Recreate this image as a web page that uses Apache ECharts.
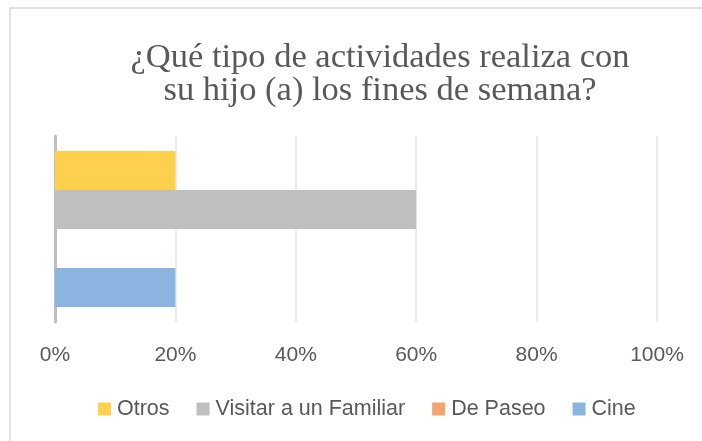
<!DOCTYPE html>
<html>
<head>
<meta charset="utf-8">
<script src="https://cdn.jsdelivr.net/npm/echarts@6/dist/echarts.min.js"></script>
<style>
  html, body { margin: 0; padding: 0; background: #fff; }
  #chart { width: 702px; height: 441px; }
</style>
</head>
<body>
<div id="chart"></div>
<script>
// datos del grafico
const categorias = ['Actividades']
const seriesNombres = ['Otros', 'Visitar a un Familiar', 'De Paseo', 'Cine']
const seriesValores = [[0.2], [0.6], [0], [0.2]]
const seriesColores = ['#FDD04D', '#BFBFBF', '#F3A470', '#8BB5E0']
const ticksX = [0, 0.2, 0.4, 0.6, 0.8, 1]

let chart = echarts.init(document.getElementById('chart'))

const option = {
  animation: false,
  title: {
    text: '¿Qué tipo de actividades realiza con\nsu hijo (a) los fines de semana?',
    left: 380,
    top: 41,
    textAlign: 'center',
    padding: 0,
    textStyle: {
      fontFamily: 'Liberation Serif',
      fontWeight: 'normal',
      fontSize: 34.5,
      color: '#595959',
      lineHeight: 33
    }
  },
  graphic: [{
    type: 'rect',
    shape: { x: 10, y: 8, width: 720, height: 460 },
    style: { fill: 'none', stroke: '#D9D9D9', lineWidth: 1.5 },
    silent: true
  }],
  legend: {
    data: seriesNombres,
    top: 393,
    left: 93,
    itemWidth: 13,
    itemHeight: 13,
    itemGap: 27,
    icon: 'rect',
    textStyle: {
      fontFamily: 'Liberation Sans',
      fontSize: 21.5,
      color: '#595959',
      padding: [0, 0, 0, 1]
    }
  },
  grid: {
    left: 55,
    right: 45,
    top: 136,
    bottom: 119
  },
  xAxis: {
    type: 'value',
    min: 0,
    max: 1,
    interval: 0.2,
    axisLine: { show: false },
    axisTick: { show: false },
    splitLine: { lineStyle: { color: '#EBEBEB', width: 2 } },
    axisLabel: {
      margin: 23,
      fontFamily: 'Liberation Sans',
      fontSize: 21,
      color: '#595959',
      customValues: ticksX,
      formatter: v => Math.round(v * 100) + '%'
    }
  },
  yAxis: {
    type: 'category',
    data: categorias,
    axisLine: { show: true, lineStyle: { color: '#BFBFBF', width: 3 } },
    axisTick: { show: false },
    axisLabel: { show: false }
  },
  series: seriesNombres.map((n, i) => ({
    name: n,
    type: 'bar',
    data: seriesValores[i],
    barWidth: 39,
    barGap: '0%',
    itemStyle: { color: seriesColores[i] },
    z: 1
  }))
}

chart.setOption(option)
</script>
</body>
</html>
